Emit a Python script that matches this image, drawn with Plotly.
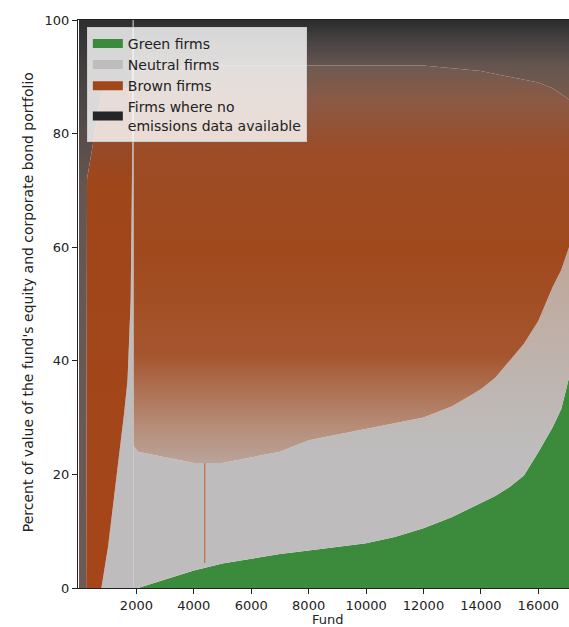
import numpy as np
import plotly.graph_objects as go

# ---------------- data ----------------
# Left block: funds with no green holdings, sorted by neutral share
left_funds = [0, 250, 280, 550, 780, 1010, 1300, 1570, 1690, 1800, 1855, 1870, 1905]
left_green_top = [0, 0, 0, 0, 0, 0, 0, 0, 0, 0, 0, 0, 0]
left_neutral_top = [0, 0, 0, 0, 0, 7.2, 19, 30.7, 36.6, 50.7, 77, 100, 100]
left_brown_top = [0, 0, 72, 80, 87, 88, 88, 88, 88, 89, 92, 100, 100]

# Main block: funds sorted by green share
main_funds = [1905, 2056, 3000, 4000, 5000, 6000, 7000, 8000,
              9000, 10000, 11000, 12000, 13000, 14000, 14500, 15000, 15500, 16000,
              16500, 16800, 17070]
main_green_top = [0, 0, 1.5, 3.1, 4.3, 5.2, 6.0, 6.6,
                  7.3, 7.9, 9.0, 10.5, 12.5, 14.9, 16.2, 17.8, 19.8, 23.9,
                  28.3, 31.5, 37]
main_neutral_top = [25, 24, 23, 22, 22, 23, 24, 26,
                    27, 28, 29, 30, 32, 35, 37, 40, 43, 47,
                    53, 56, 60]
main_brown_top = [91, 91, 91.5, 92, 92, 92, 92, 92,
                  92, 92, 92, 92, 91.5, 91, 90.5, 90, 89.5, 89,
                  88, 87, 86]

# A single fund with an unusually large brown share
spike_fund = [4380, 4380]
spike_brown_range = [4.4, 22]

series_names = ["Green firms", "Neutral firms", "Brown firms",
                "Firms where no<br>emissions data available"]
x_ticks = [2000, 4000, 6000, 8000, 10000, 12000, 14000, 16000]
y_ticks = [0, 20, 40, 60, 80, 100]

GREEN = "#3c8a3c"
GREY = "#bebcbc"
BROWN = "#a3461a"
BLACK = "#232629"


def shares(green_top, neutral_top, brown_top):
    g = np.array(green_top, float)
    n = np.array(neutral_top, float)
    b = np.array(brown_top, float)
    return [g, n - g, b - n, 100 - b]


fig = go.Figure()

# ---- left block ----
lg, ln, lb, lk = shares(left_green_top, left_neutral_top, left_brown_top)
left_styles = [
    dict(fillcolor=GREEN),
    dict(fillcolor=GREY),
    dict(fillcolor=BROWN, fillgradient=dict(type="vertical", start=0, stop=95,
         colorscale=[[0, "#a5461a"], [0.75, "#a0461b"], [0.88, "#8e4d33"], [1, "#6a5750"]])),
    dict(fillcolor=BLACK, fillgradient=dict(type="vertical", start=0, stop=100,
         colorscale=[[0, "#6b5a55"], [0.7, "#665650"], [0.88, "#4a4442"], [1, "#2e2f30"]])),
]
for vals, st in zip([lg, ln, lb, lk], left_styles):
    fig.add_trace(go.Scatter(x=left_funds, y=vals, stackgroup="left", mode="lines",
                             line=dict(width=0), showlegend=False, hoverinfo="skip", **st))

# ---- main block ----
mg, mn, mb, mk = shares(main_green_top, main_neutral_top, main_brown_top)
main_styles = [
    dict(fillcolor=GREEN),
    dict(fillcolor=GREY, fillgradient=dict(type="vertical", start=25, stop=62,
         colorscale=[[0, GREY], [1, "#bfa596"]])),
    dict(fillcolor=BROWN, fillgradient=dict(type="vertical", start=16, stop=92,
         colorscale=[[0, "#bdb9b7"], [0.16, "#b68e7a"], [0.33, "#a5552e"],
                     [0.57, "#a0491d"], [0.8, "#9c4c26"], [0.92, "#8a5a45"], [1, "#6e5a52"]])),
    dict(fillcolor=BLACK, fillgradient=dict(type="vertical", start=86, stop=100,
         colorscale=[[0, "#7a5a4a"], [0.4, "#665650"], [0.72, "#4a4443"], [1, "#2a2b2d"]])),
]
for vals, st in zip([mg, mn, mb, mk], main_styles):
    fig.add_trace(go.Scatter(x=main_funds, y=vals, stackgroup="main", mode="lines",
                             line=dict(width=0), showlegend=False, hoverinfo="skip", **st))

fig.add_trace(go.Scatter(x=spike_fund, y=spike_brown_range, mode="lines",
                         line=dict(color="#c0704a", width=1.2), showlegend=False,
                         hoverinfo="skip"))

# ---- legend entries ----
for name, col in zip(series_names, [GREEN, GREY, BROWN, BLACK]):
    fig.add_trace(go.Scatter(x=[None], y=[None], mode="lines", name=name,
                             line=dict(color=col, width=9)))

fig.update_layout(
    width=569, height=627,
    margin=dict(l=78, r=0, t=20, b=39),
    paper_bgcolor="white", plot_bgcolor="white",
    font=dict(family="DejaVu Sans", size=13, color="#222"),
    showlegend=True,
    legend=dict(x=0.018, y=0.988, xanchor="left", yanchor="top",
                bgcolor="rgba(255,255,255,0.8)", bordercolor="#cccccc", borderwidth=1,
                font=dict(size=14, color="#222"), traceorder="normal",
                tracegroupgap=0, itemwidth=30),
    xaxis=dict(range=[-35, 17070], tickvals=x_ticks, ticktext=[str(v) for v in x_ticks],
               ticks="outside", ticklen=5, automargin=False,
               tickcolor="#222", showline=True, linecolor="#222", linewidth=1,
               mirror=True, showgrid=False, zeroline=False),
    yaxis=dict(range=[0, 100], tickvals=y_ticks, ticktext=[str(v) for v in y_ticks],
               ticks="outside", ticklen=5, automargin=False,
               tickcolor="#222", showline=True, linecolor="#222", linewidth=1,
               showgrid=False, zeroline=False),
    annotations=[
        dict(text="Fund", x=0.509, y=-0.056, xref="paper", yref="paper",
             showarrow=False, font=dict(size=13), xanchor="center", yanchor="middle"),
        dict(text="Percent of value of the fund's equity and corporate bond portfolio",
             x=-0.102, y=0.503, xref="paper", yref="paper", textangle=-90,
             showarrow=False, font=dict(size=14), xanchor="center", yanchor="middle"),
    ],
)

# remove the browser's default page margin so the figure fills the window
fig.write_html("out.html", config={"displayModeBar": False},
               post_script="document.body.style.margin='0';document.body.style.overflow='hidden';")
